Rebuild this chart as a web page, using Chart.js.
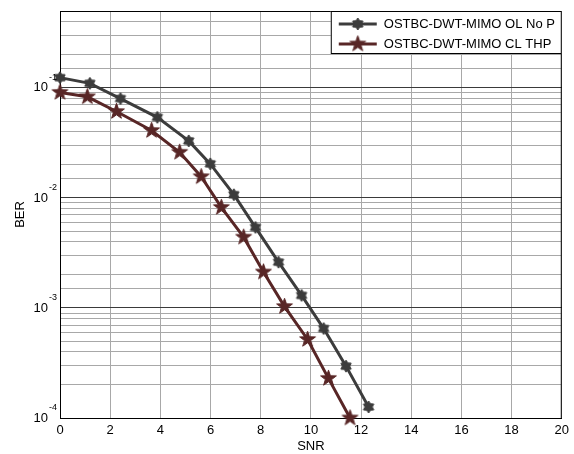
<!DOCTYPE html>
<html>
<head>
<meta charset="utf-8">
<script src="https://cdn.jsdelivr.net/npm/chart.js@4.4.0/dist/chart.umd.min.js"></script>
<style>
  html, body { margin: 0; padding: 0; background: #fff; }
</style>
</head>
<body>
<canvas id="chart1" width="574" height="454"></canvas>
<script>
let seriesNames = ["OSTBC-DWT-MIMO OL No P", "OSTBC-DWT-MIMO CL THP"];
let snrOL = [0, 1.19, 2.41, 3.88, 5.13, 5.99, 6.93, 7.79, 8.71, 9.63, 10.51, 11.4, 12.3];
let berOL = [0.124, 0.11, 0.080, 0.054, 0.033, 0.0204, 0.0107, 0.0054, 0.00261, 0.0013, 0.00065, 0.000296, 0.000126];
let snrCL = [0, 1.09, 2.25, 3.65, 4.77, 5.63, 6.43, 7.32, 8.11, 8.95, 9.87, 10.7, 11.56];
let berCL = [0.091, 0.083, 0.061, 0.041, 0.026, 0.0156, 0.0082, 0.0044, 0.00212, 0.00103, 0.000517, 0.000229, 0.0001];
let lineColors = ["#3c3c3c", "#582626"];
let yExponents = [-4, -3, -2, -1];

const FONT = '"Liberation Sans", Arial, sans-serif';

// filled star marker (6 points = hexagram, 5 points = pentagram)
function starImage(points, outer, inner, color) {
  const size = Math.ceil(outer * 2 + 2);
  const c = document.createElement('canvas');
  c.width = size; c.height = size;
  const g = c.getContext('2d');
  g.translate(size / 2, size / 2);
  g.beginPath();
  for (let i = 0; i < points * 2; i++) {
    const r = i % 2 ? inner : outer;
    const a = -Math.PI / 2 + i * Math.PI / points;
    g.lineTo(r * Math.cos(a), r * Math.sin(a));
  }
  g.closePath();
  g.fillStyle = color; g.fill();
  g.strokeStyle = color; g.lineWidth = 1; g.stroke();
  return c;
}

const markerOL = starImage(6, 6, 3.7, lineColors[0]);
const markerCL = starImage(5, 8.3, 3.3, lineColors[1]);

function isDecade(v) {
  const l = Math.log10(v);
  return Math.abs(l - Math.round(l)) < 1e-6;
}

const boxFrame = {
  id: 'boxFrame',
  beforeDatasetsDraw(chart) {
    const g = chart.ctx, a = chart.chartArea;
    g.save();
    g.strokeStyle = '#000'; g.lineWidth = 1;
    g.beginPath();
    g.moveTo(a.left, a.top + 0.5); g.lineTo(a.right, a.top + 0.5);
    g.moveTo(a.right - 0.5, a.top); g.lineTo(a.right - 0.5, a.bottom);
    g.stroke();
    g.restore();
  },
  afterDraw(chart) {
    const g = chart.ctx, a = chart.chartArea, ys = chart.scales.y;
    g.save();
    g.fillStyle = '#000';
    g.textBaseline = 'middle';
    yExponents.forEach(e => {
      const py = ys.getPixelForValue(Math.pow(10, e));
      g.font = '13px ' + FONT;
      g.textAlign = 'right';
      g.fillText('10', a.left - 12, py);
      g.font = '9px ' + FONT;
      g.textAlign = 'left';
      g.fillText(String(e), a.left - 11, py - 10);
    });
    // legend
    const w = 231, h = 43;
    const x0 = a.right - w, y0 = a.top;
    g.fillStyle = '#fff'; g.fillRect(x0, y0, w, h);
    g.strokeStyle = '#000'; g.lineWidth = 1;
    g.strokeRect(x0 + 0.5, y0 + 0.5, w - 1, h - 1);
    chart.data.datasets.forEach((ds, i) => {
      const cy = y0 + 13 + i * 20;
      g.strokeStyle = ds.borderColor; g.lineWidth = 3;
      g.beginPath(); g.moveTo(x0 + 8, cy); g.lineTo(x0 + 46, cy); g.stroke();
      const img = ds.pointStyle;
      g.drawImage(img, x0 + 27 - img.width / 2, cy - img.height / 2);
      g.fillStyle = '#000'; g.font = '13px ' + FONT;
      g.textAlign = 'left';
      g.fillText(ds.label, x0 + 53, cy);
    });
    g.restore();
  }
};

new Chart("chart1", {
  type: "line",
  data: {
    datasets: [{
      label: seriesNames[0],
      data: snrOL.map((x, i) => ({ x: x, y: berOL[i] })),
      borderColor: lineColors[0],
      backgroundColor: lineColors[0],
      borderWidth: 3,
      pointStyle: markerOL,
      pointRadius: 6,
      clip: false,
      order: 2
    }, {
      label: seriesNames[1],
      data: snrCL.map((x, i) => ({ x: x, y: berCL[i] })),
      borderColor: lineColors[1],
      backgroundColor: lineColors[1],
      borderWidth: 3,
      pointStyle: markerCL,
      pointRadius: 8,
      clip: false,
      order: 1
    }]
  },
  options: {
    responsive: false,
    devicePixelRatio: 1,
    animation: false,
    layout: { padding: { left: 0, right: 11, top: 9, bottom: 0 } },
    plugins: { legend: { display: false }, tooltip: { enabled: false } },
    scales: {
      x: {
        type: 'linear', min: 0, max: 20,
        ticks: { stepSize: 2, color: '#000', font: { family: FONT, size: 13 }, padding: 5, maxRotation: 0 },
        grid: { color: '#a8a8a8', drawTicks: false },
        border: { color: '#000', width: 1 },
        title: { display: true, text: 'SNR', color: '#000', font: { family: FONT, size: 13 }, padding: { top: 0, bottom: 0 } },
        afterFit: s => { s.height = 36; }
      },
      y: {
        type: 'logarithmic', min: 1e-4, max: 0.5,
        ticks: { autoSkip: false, callback: () => '' },
        grid: {
          drawTicks: false,
          color: c => isDecade(c.tick.value) ? '#3a3a3a' : '#a8a8a8'
        },
        border: { color: '#000', width: 1 },
        title: { display: true, text: 'BER', color: '#000', font: { family: FONT, size: 13 }, padding: { top: 13, bottom: 0 } },
        afterFit: s => { s.width = 60; }
      }
    }
  },
  plugins: [boxFrame]
});
</script>
</body>
</html>
